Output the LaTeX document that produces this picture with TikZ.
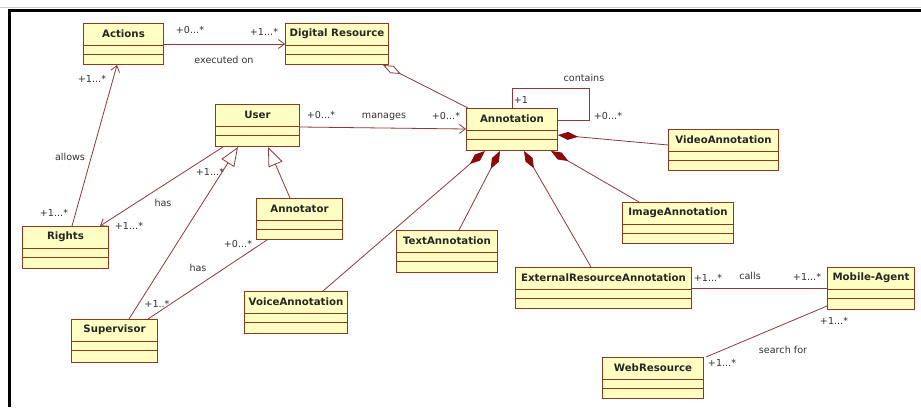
\documentclass[tikz,border=0pt]{standalone}
\usepackage{fontspec}
\setmainfont{DejaVu Sans}
\usetikzlibrary{arrows.meta,calc}

\definecolor{classfill}{HTML}{FFFFC4}
\definecolor{classedge}{HTML}{8B3A1E}
\definecolor{linkcol}{HTML}{8A3A3A}
\definecolor{diamondcol}{HTML}{8B0A0A}
\definecolor{labelcol}{HTML}{333333}

\tikzset{
  classbox/.style={draw=classedge, fill=classfill, line width=1pt, inner sep=0pt},
  classname/.style={font=\bfseries\fontsize{10.2}{12}\selectfont, text=black!85, inner sep=0pt},
  divider/.style={draw=classedge, line width=1pt},
  link/.style={draw=linkcol, line width=0.8pt},
  navarrow/.style={link, -{Straight Barb[length=6pt,width=9pt]}},
  genarrow/.style={link, -{Triangle[open,length=19pt,width=15pt,fill=white]}},
  composite/.style={link, {Diamond[length=20pt,width=8pt,fill=diamondcol,color=diamondcol]}-},
  aggregate/.style={link, {Diamond[open,length=20pt,width=8pt,fill=white]}-},
  lbl/.style={font=\fontsize{9.6}{11}\selectfont, text=labelcol, inner sep=0pt},
}

% a UML class: name, left, top, right, bottom, title
\newcommand\umlclass[6]{%
  \node[classbox, anchor=north west,
        minimum width={(#4-#2)*1pt}, minimum height={(#5-#3)*1pt}] (#1) at (#2,#3) {};
  \node[classname] at ($(#1.north)+(0,11)$) {#6};
  \draw[divider] ($(#1.north west)+(0,22)$) -- ($(#1.north east)+(0,22)$);
  \draw[divider] ($(#1.north west)+(0,31)$) -- ($(#1.north east)+(0,31)$);
}

\begin{document}
\begin{tikzpicture}[x=1pt,y=-1pt]
\useasboundingbox (0,0) rectangle (921,407);
\fill[white] (0,0) rectangle (921,407);

% drawing-surface dot grid
\foreach \r in {0,...,49}{
  \draw[gray!9, line width=0.8pt, dash pattern=on 2pt off 6pt]
    (12,{14+8*\r}) -- (921,{14+8*\r});
}

% window frame
\draw[gray!40, line width=0.5pt] (0,7.5) -- (921,7.5);
\draw[black, line width=3pt] (7.5,10) -- (921,10);
\draw[black, line width=3pt] (9,8.5) -- (9,407);

% classes
\umlclass{actions}{83}{23}{163}{64}{Actions}
\umlclass{digres}{285}{23}{388}{64}{Digital Resource}
\umlclass{user}{215}{104}{299}{146}{User}
\umlclass{annot}{466}{108}{557}{150}{Annotation}
\umlclass{video}{668}{129}{778}{170}{VideoAnnotation}
\umlclass{rights}{22}{226}{108}{268}{Rights}
\umlclass{annotator}{256}{198}{342}{239}{Annotator}
\umlclass{supervisor}{71}{319}{157}{362}{Supervisor}
\umlclass{voice}{244}{291}{347}{333}{VoiceAnnotation}
\umlclass{text}{396}{230}{497}{272}{TextAnnotation}
\umlclass{image}{622}{202}{733}{243}{ImageAnnotation}
\umlclass{extres}{515}{267}{691}{308}{ExternalResourceAnnotation}
\umlclass{agent}{827}{267}{914}{309}{Mobile-Agent}
\umlclass{web}{602}{357}{703}{398}{WebResource}

% executed on
\draw[navarrow] ($(actions.north east)+(0,21)$) -- ($(digres.north west)+(0,21)$);
\node[lbl] at (190,30) {+0...*};
\node[lbl] at (264,32) {+1...*};
\node[lbl] at (224,60) {executed on};

% digital resource aggregates annotations
\draw[aggregate] ($(digres.south east)+(-6,0)$) -- ($(annot.north west)+(2,0)$);

% manages
\draw[navarrow] ($(user.north east)+(0,23)$) -- ($(annot.north west)+(0,21)$);
\node[lbl] at (321,115) {+0...*};
\node[lbl] at (384,117) {manages};
\node[lbl] at (446,116) {+0...*};

% contains (self association)
\draw[link] ($(annot.north west)+(46,0)$) -- ++(0,-20) -- ++(77,0) -- ++(0,32)
  -- ($(annot.north east)+(0,12)$);
\node[lbl] at (584,78) {contains};
\node[lbl] at (521,100) {+1};
\node[lbl] at (608,116) {+0...*};

% composition parts of Annotation
\draw[composite] ($(annot.north east)+(0,27)$) -- ($(video.north west)+(0,16)$);
\draw[composite] ($(annot.south west)+(19,0)$) -- ($(voice.north west)+(79,0)$);
\draw[composite] ($(annot.south west)+(34,0)$) -- ($(text.north west)+(63,0)$);
\draw[composite] ($(annot.south west)+(58,0)$) -- ($(extres.north west)+(76,0)$);
\draw[composite] ($(annot.south west)+(85,0)$) -- ($(image.north west)+(17,0)$);

% allows
\draw[navarrow] ($(rights.north west)+(50,0)$) -- ($(actions.south west)+(34,0)$);
\node[lbl] at (92,79) {+1...*};
\node[lbl] at (70,157) {allows};
\node[lbl] at (54,213) {+1...*};

% user has rights
\draw[navarrow] ($(user.south west)+(8,0)$) -- ($(rights.north west)+(78,0)$);
\node[lbl] at (163,203) {has};
\node[lbl] at (129,226) {+1...*};

% generalisations of User
\draw[genarrow] ($(supervisor.north west)+(58,0)$) -- ($(user.south west)+(23,0)$);
\draw[genarrow] ($(annotator.north west)+(34,0)$) -- ($(user.south west)+(53,0)$);
\node[lbl] at (210,172) {+1...*};

% supervisor has annotators
\draw[link] ($(supervisor.north west)+(77,0)$) -- ($(annotator.south west)+(11,0)$);
\node[lbl] at (238,244) {+0...*};
\node[lbl] at (198,268) {has};
\node[lbl] at (157,304) {+1..*};

% calls
\draw[link] ($(extres.north east)+(0,21)$) -- ($(agent.north west)+(0,21)$);
\node[lbl] at (708,278) {+1...*};
\node[lbl] at (750,276) {calls};
\node[lbl] at (807,277) {+1...*};

% search for
\draw[link] ($(agent.north west)+(0,39)$) -- ($(web.north east)+(2,0)$);
\node[lbl] at (834,321) {+1...*};
\node[lbl] at (783,350) {search for};
\node[lbl] at (722,363) {+1...*};
\end{tikzpicture}
\end{document}
